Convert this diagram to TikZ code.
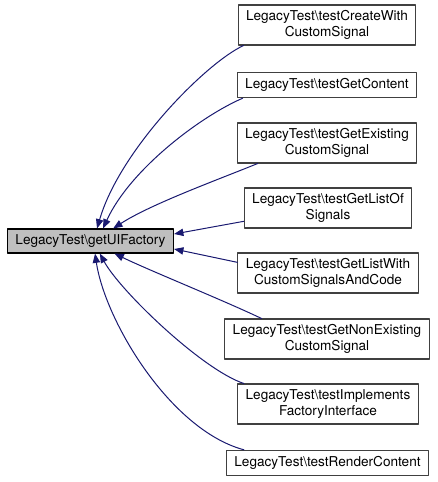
\documentclass[tikz,border=0pt]{standalone}
\usepackage{fontspec}
\setmainfont{TeX Gyre Heros}
\usetikzlibrary{arrows.meta}
\definecolor{midnight}{HTML}{191970}

\begin{document}
\begin{tikzpicture}[
  x=0.75pt, y=-0.75pt,
  line cap=round,
  line join=round,
  font=\fontsize{10.2}{11.5}\selectfont,
  fn/.style={draw=black!75, fill=white, line width=0.8pt, inner xsep=6pt, inner ysep=0pt, align=center, minimum height=19pt},
  twoline/.style={minimum height=30pt},
  focus/.style={fn, draw=black, fill=black!25, minimum height=18pt},
  call/.style={-{Triangle[length=7pt,width=5.5pt]}, line width=0.75pt, draw=midnight}
]

\useasboundingbox (0,0) rectangle (437,482);

% Function whose callers are shown.
\node[focus] (root) at (90.5,241) {LegacyTest\textbackslash getUIFactory};

% Calling test functions.
\node[fn, twoline] (createSig) at (327,25) {LegacyTest\textbackslash testCreateWith\\CustomSignal};
\node[fn] (getContent) at (327,85) {LegacyTest\textbackslash testGetContent};
\node[fn, twoline] (getExisting) at (327,143) {LegacyTest\textbackslash testGetExisting\\CustomSignal};
\node[fn, twoline] (listOf) at (328,208) {LegacyTest\textbackslash testGetListOf\\Signals};
\node[fn, twoline] (listWith) at (328,273) {LegacyTest\textbackslash testGetListWith\\CustomSignalsAndCode};
\node[fn, twoline] (nonExisting) at (327,339) {LegacyTest\textbackslash testGetNonExisting\\CustomSignal};
\node[fn, twoline] (implements) at (328,404) {LegacyTest\textbackslash testImplements\\FactoryInterface};
\node[fn] (render) at (327.5,463) {LegacyTest\textbackslash testRenderContent};

% Call edges, arrowheads on the called function.
\draw[call] ([xshift=4.5pt]createSig.south west) .. controls +(-37,17) and +(23,-79) .. ([xshift=4.9pt]root.north);
\draw[call] ([xshift=4.5pt]getContent.south west) .. controls +(-42,18) and +(27,-59) .. ([xshift=9.4pt]root.north);
\draw[call] ([xshift=15.75pt]getExisting.south west) .. controls +(-42,17) and +(37,-24) .. ([xshift=17pt]root.north);
\draw[call] ([yshift=-10pt]listOf.west) -- ([yshift=5.25pt]root.east);
\draw[call] ([yshift=8pt]listWith.west) -- ([yshift=-6pt]root.east);
\draw[call] ([xshift=28pt]nonExisting.north west) .. controls +(-40,-19) and +(35,17) .. ([xshift=18pt]root.south);
\draw[call] ([xshift=5pt]implements.north west) .. controls +(-42,-14) and +(20,37) .. ([xshift=7pt]root.south);
\draw[call] ([xshift=13.5pt]render.north west) .. controls +(-74,-20) and +(10,67) .. ([xshift=3.4pt]root.south);

\end{tikzpicture}
\end{document}
